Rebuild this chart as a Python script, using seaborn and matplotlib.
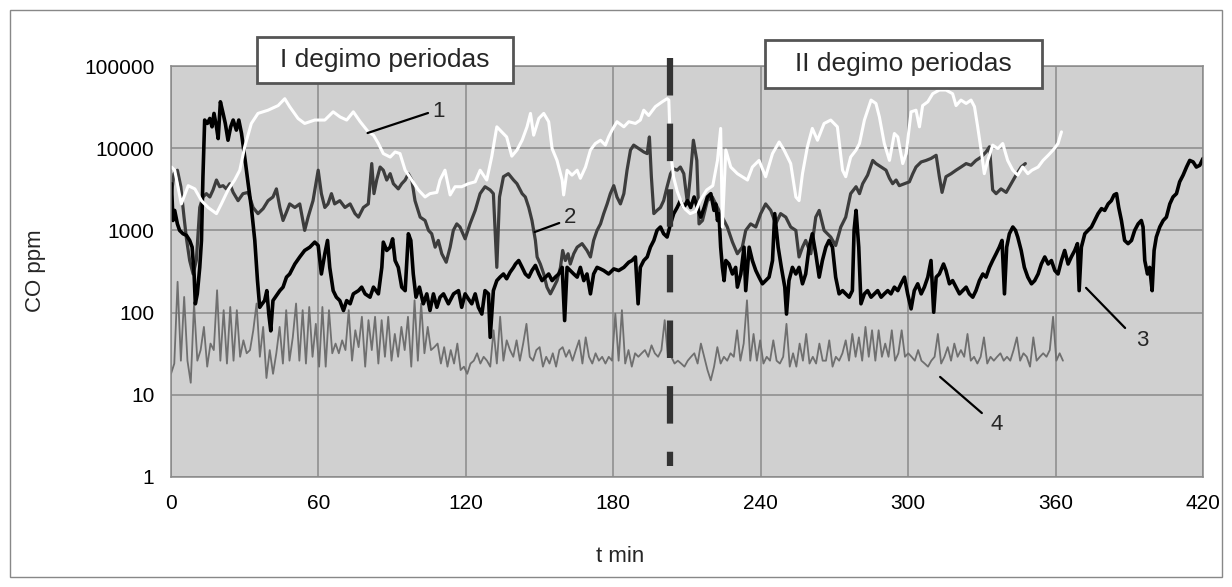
import numpy as np
import matplotlib
matplotlib.use('Agg')
import matplotlib.pyplot as plt
import seaborn as sns
from matplotlib.patches import Rectangle

# series 1 (white line)
t1 = [0.2, 1.5, 4.2, 7.0, 9.7, 12.4, 15.1, 18.5, 20.5, 23.2, 25.9, 28.0, 30.0, 32.7, 35.4, 39.5,
      43.6, 46.3, 48.3, 51.7, 54.4, 58.5, 62.6, 66.0, 68.8, 71.5, 74.2, 77.0, 80.3, 82.4, 84.4,
      86.4, 89.2, 91.2, 93.2, 95.3, 98.0, 100.7, 103.4, 105.4, 108.2, 109.5, 111.5, 113.6, 115.6,
      118.3, 121.0, 123.8, 125.8, 128.5, 130.5, 132.6, 134.6, 136.6, 138.7, 140.8, 142.9, 144.9,
      146.3, 147.6, 149.7, 151.7, 153.7, 155.1, 157.1, 159.2, 159.8, 161.2, 163.2, 165.3, 166.6,
      168.7, 170.7, 172.7, 174.8, 176.8, 178.1, 179.5, 181.5, 184.3, 186.3, 189.0, 191.0, 192.4,
      194.4, 197.1, 199.9, 201.9, 202.6, 203.3, 204.5, 206.0, 208.5, 211.3, 213.5, 215.3, 218.0,
      220.5, 222.4, 223.7, 224.4, 225.8, 227.8, 230.5, 234.6, 236.6, 239.3, 242.0, 244.8, 247.5,
      249.5, 252.2, 254.3, 255.6, 257.0, 259.0, 261.0, 263.1, 265.8, 268.5, 271.2, 273.3, 274.6,
      276.6, 278.8, 280.2, 282.2, 284.9, 286.9, 288.3, 290.3, 292.4, 294.4, 295.8, 297.8, 299.2,
      301.2, 303.2, 304.6, 305.9, 308.0, 310.0, 312.7, 315.4, 318.1, 319.5, 321.5, 323.6, 325.6,
      327.0, 328.3, 329.7, 331.0, 332.4, 334.4, 336.5, 338.5, 340.5, 342.6, 344.6, 346.6, 348.7,
      350.4, 352.9, 354.9, 357.0, 359.0, 361.0, 362.4]
co1 = [5900, 5400, 2100, 3500, 3200, 2300, 1900, 1600, 2100, 3100, 4100, 5400, 10400, 20000, 26500,
       29000, 33000, 40000, 32000, 23000, 20000, 22000, 22000, 27700, 24000, 22000, 27700, 21000,
       15800, 14400, 11400, 8600, 7800, 9000, 8600, 5400, 4100, 3100, 2550, 2800, 2900, 4100, 5400,
       2700, 3400, 3400, 3700, 3900, 5400, 4100, 7800, 18200, 15800, 13700, 8000, 9500, 12500,
       18200, 26500, 14400, 23000, 26500, 21000, 9900, 7100, 4100, 2700, 5400, 4700, 5400, 4300,
       5900, 9500, 11400, 12500, 10900, 13700, 16600, 21000, 18200, 21000, 20000, 22000, 29000,
       25000, 32000, 36700, 40000, 38500, 9500, 4500, 3000, 1900, 1600, 1700, 2300, 3100, 3500,
       7100, 17400, 1100, 9500, 5900, 4900, 4100, 5900, 7100, 4500, 8600, 11900, 9500, 6500, 2550,
       2300, 4900, 10400, 17400, 12500, 20000, 22000, 18200, 5400, 4500, 7800, 9500, 11400, 22000,
       38500, 35000, 24000, 11400, 7100, 15100, 13700, 6500, 8600, 27700, 29000, 18200, 33000,
       36700, 46000, 51000, 51000, 46000, 33000, 38500, 35000, 38500, 32000, 18200, 9500, 4900,
       7100, 10900, 9900, 11400, 7100, 5400, 4700, 5900, 4900, 5400, 5900, 7100, 8200, 9500,
       11400, 15800]

# series 2 (dark grey line)
t2 = [0.2, 1.2, 2.6, 4.0, 5.3, 6.3, 7.6, 9.0, 10.3, 11.7, 13.0, 14.4, 15.8, 17.1, 18.5, 19.8, 21.2,
      22.5, 23.9, 25.3, 27.3, 29.3, 31.4, 33.4, 35.4, 37.5, 39.5, 41.5, 42.9, 44.3, 45.6, 47.0,
      48.3, 50.4, 52.4, 54.4, 55.8, 57.8, 59.9, 61.2, 62.6, 63.9, 65.3, 66.6, 68.7, 70.8, 72.9,
      74.9, 76.3, 78.3, 80.3, 81.7, 82.6, 83.7, 85.1, 86.4, 87.8, 89.2, 90.5, 92.5, 93.9, 95.3,
      96.6, 98.0, 99.3, 101.4, 103.4, 104.8, 106.1, 107.5, 108.8, 110.2, 112.0, 113.6, 114.9,
      116.3, 117.6, 119.7, 121.7, 123.8, 125.8, 127.8, 129.9, 131.2, 132.6, 133.7, 135.3, 137.3,
      139.4, 140.8, 142.9, 144.2, 145.6, 146.9, 148.3, 149.0, 150.3, 151.7, 153.0, 154.4, 155.8,
      157.1, 158.5, 159.4, 160.5, 161.6, 162.5, 163.9, 165.3, 167.3, 169.3, 170.7, 172.0, 173.4,
      174.8, 176.1, 177.5, 178.8, 180.2, 181.5, 182.9, 184.3, 185.6, 187.0, 188.3, 190.4, 192.4,
      193.8, 194.7, 195.5, 196.5, 197.8, 199.2, 200.5, 201.9, 203.3, 204.6, 206.0, 207.3, 208.7,
      210.2, 211.2, 212.6, 214.0, 214.9, 216.3, 218.3, 220.3, 222.4, 224.4, 226.4, 228.5, 230.5,
      232.5, 233.9, 235.9, 238.0, 240.0, 242.0, 244.1, 246.1, 248.1, 250.2, 252.2, 254.3, 255.6,
      257.0, 258.3, 260.4, 262.4, 263.8, 265.8, 268.5, 270.5, 272.6, 274.6, 276.6, 278.8, 280.2,
      281.5, 283.5, 285.6, 286.9, 289.0, 291.0, 292.4, 293.7, 295.1, 296.4, 298.5, 300.5, 301.9,
      303.2, 305.3, 307.3, 309.3, 311.4, 312.7, 313.8, 315.4, 317.5, 319.5, 321.5, 323.6, 325.6,
      327.6, 329.7, 331.7, 333.1, 334.4, 335.8, 337.8, 339.9, 341.9, 343.9, 346.0, 347.7]
co2 = [2800, 4900, 5400, 3400, 1450, 790, 430, 295, 430, 1900, 2550, 2800, 2550, 3100, 4100, 3400,
       3500, 3200, 3700, 2900, 2300, 2800, 2900, 1900, 1600, 1840, 2300, 2550, 3200, 1900, 1320,
       1670, 2100, 1900, 2100, 1000, 1450, 2300, 5400, 2800, 1900, 2100, 2800, 2100, 2300, 1900,
       2100, 1600, 1450, 1900, 2100, 6500, 2800, 4100, 5900, 5400, 4100, 4900, 3700, 3200, 3700,
       4100, 4900, 4100, 2300, 1450, 1320, 1000, 910, 625, 755, 520, 410, 625, 1000, 1200, 1100,
       790, 1200, 1750, 2800, 3400, 3100, 2800, 355, 2550, 4500, 4900, 4100, 3700, 2800, 2550,
       1900, 1320, 755, 475, 390, 295, 204, 169, 204, 245, 355, 570, 430, 520, 390, 520, 625, 690,
       570, 475, 755, 1000, 1200, 1600, 2100, 2800, 3500, 2550, 2100, 2800, 5400, 9500, 10900,
       9900, 9000, 8600, 13700, 4500, 1600, 1750, 1900, 2300, 3400, 4900, 5600, 5400, 5900, 4900,
       2100, 4100, 12500, 7100, 1200, 1320, 2300, 2550, 1900, 1450, 1100, 720, 520, 625, 1000,
       1200, 1100, 1600, 2100, 1750, 1200, 1600, 1450, 1100, 1000, 475, 625, 755, 520, 1450, 1750,
       1000, 830, 655, 1100, 1450, 2800, 3400, 2800, 3700, 4700, 7100, 6500, 5900, 5400, 4300,
       3700, 4100, 3500, 3700, 3900, 4900, 5900, 6800, 7100, 7500, 8200, 4500, 2900, 4500, 4900,
       5400, 5900, 6500, 6200, 7100, 7800, 9000, 10400, 3100, 2800, 3200, 2900, 3700, 4700, 5900,
       6500]

# series 3 (black line)
t3 = [0.2, 0.8, 1.5, 2.6, 3.5, 4.9, 6.3, 7.6, 8.6, 9.4, 9.9, 10.7, 11.7, 12.4, 13.0, 13.7, 14.8,
      15.8, 16.7, 17.5, 18.5, 19.2, 20.1, 21.2, 22.1, 23.2, 24.3, 25.3, 26.6, 27.6, 28.7, 30.0,
      31.4, 32.7, 34.1, 35.2, 36.1, 37.1, 38.1, 39.0, 39.8, 40.6, 41.5, 42.9, 44.3, 45.6, 47.0,
      48.3, 50.4, 52.4, 54.4, 56.5, 58.5, 59.9, 61.2, 62.6, 63.7, 64.6, 66.0, 67.3, 68.7, 70.2,
      71.5, 72.9, 74.2, 76.3, 77.6, 79.0, 81.0, 82.4, 84.4, 85.8, 86.4, 87.8, 89.2, 90.2, 91.2,
      92.5, 93.9, 95.3, 96.6, 97.6, 98.6, 99.7, 101.1, 102.7, 104.1, 105.4, 106.8, 108.2, 109.5,
      110.9, 112.9, 115.0, 117.0, 118.3, 119.7, 121.0, 122.4, 123.8, 125.1, 126.5, 127.8, 129.2,
      129.9, 131.2, 132.6, 133.9, 135.3, 136.6, 138.0, 139.4, 140.2, 141.5, 142.9, 144.2, 145.6,
      146.9, 148.3, 149.7, 151.0, 152.4, 153.7, 155.1, 156.4, 157.8, 159.2, 160.2, 161.2, 162.5,
      163.9, 165.3, 166.6, 168.0, 169.3, 170.7, 172.0, 173.4, 174.8, 176.1, 178.1, 180.2, 182.2,
      184.3, 186.3, 187.6, 189.0, 190.1, 191.0, 192.4, 193.8, 195.1, 196.5, 197.8, 199.2, 200.5,
      201.9, 203.3, 204.6, 206.0, 207.3, 208.7, 210.2, 211.5, 212.9, 214.2, 215.6, 217.0, 218.3,
      219.7, 221.0, 221.7, 222.4, 223.0, 223.7, 224.4, 225.1, 225.8, 227.1, 228.5, 229.8, 230.5,
      231.9, 233.2, 233.9, 235.3, 236.6, 238.0, 239.3, 240.7, 242.0, 243.4, 244.8, 245.7, 247.1,
      248.4, 249.8, 250.5, 251.5, 252.9, 254.3, 255.6, 257.0, 258.3, 259.7, 261.0, 262.4, 263.8,
      265.1, 266.5, 267.8, 269.2, 270.5, 271.9, 273.3, 274.6, 276.0, 277.3, 278.0, 278.8, 279.9,
      280.8, 282.2, 283.5, 284.9, 286.3, 287.6, 289.0, 290.3, 291.7, 293.0, 294.4, 295.8, 297.1,
      298.5, 299.8, 301.2, 302.5, 303.9, 305.3, 306.6, 308.0, 309.3, 310.4, 311.4, 312.7, 314.4,
      315.4, 316.8, 318.1, 319.5, 320.9, 322.2, 323.6, 324.9, 326.3, 327.6, 329.0, 330.4, 331.7,
      333.1, 334.4, 335.8, 337.1, 338.2, 339.2, 340.1, 341.2, 342.6, 343.7, 344.6, 346.0, 347.3,
      348.7, 350.2, 351.5, 352.9, 354.2, 355.6, 357.0, 358.3, 359.7, 361.0, 362.4, 363.7, 365.1,
      366.4, 367.8, 368.9, 369.6, 370.5, 371.9, 373.2, 374.6, 375.9, 377.3, 378.7, 380.0, 381.4,
      382.7, 383.8, 384.8, 385.7, 386.8, 388.1, 389.5, 390.9, 392.2, 393.6, 394.9, 395.6, 396.3,
      397.4, 398.3, 399.3, 400.1, 401.0, 402.4, 403.8, 405.1, 406.5, 407.8, 409.2, 410.5, 411.9,
      413.3, 414.6, 416.0, 417.3, 418.7, 420.0]
co3 = [3700, 1320, 1750, 1200, 1000, 910, 870, 755, 625, 295, 128, 169, 355, 755, 4500, 22000,
       20000, 23000, 18200, 26500, 18200, 13100, 36700, 26500, 20000, 12500, 18200, 22000, 16600,
       22000, 15100, 7800, 3700, 1900, 755, 245, 116, 128, 140, 185, 96, 60, 140, 161, 185, 204,
       270, 295, 390, 475, 570, 625, 720, 655, 295, 520, 755, 355, 185, 154, 140, 106, 140, 128,
       169, 185, 204, 169, 154, 204, 169, 355, 720, 570, 625, 790, 430, 355, 204, 185, 910, 755,
       295, 154, 204, 128, 169, 106, 169, 116, 154, 169, 128, 169, 185, 116, 169, 147, 128, 169,
       116, 96, 185, 169, 50, 185, 245, 270, 295, 258, 310, 355, 390, 430, 355, 295, 270, 325, 375,
       295, 245, 270, 295, 245, 270, 295, 355, 80, 355, 325, 295, 270, 355, 245, 295, 169, 295,
       355, 340, 325, 295, 340, 325, 355, 410, 430, 475, 128, 355, 430, 475, 625, 755, 1000, 1100,
       910, 830, 1200, 1600, 1900, 2300, 1900, 2300, 1900, 2550, 1900, 1450, 1900, 2550, 2800,
       1750, 2100, 1320, 1600, 625, 355, 245, 430, 390, 295, 355, 204, 295, 625, 185, 625, 430,
       325, 270, 224, 245, 270, 430, 1600, 625, 355, 204, 96, 245, 355, 295, 355, 224, 295, 625,
       910, 520, 270, 430, 625, 755, 625, 270, 169, 185, 169, 154, 185, 1000, 1750, 625, 128, 169,
       185, 154, 169, 185, 154, 169, 185, 169, 204, 185, 224, 270, 169, 111, 185, 224, 169, 204,
       270, 430, 101, 270, 295, 390, 325, 224, 245, 204, 169, 185, 204, 169, 154, 185, 245, 295,
       270, 355, 430, 520, 625, 755, 169, 625, 910, 1100, 1000, 830, 570, 355, 270, 224, 245, 295,
       390, 475, 390, 430, 325, 295, 430, 570, 390, 475, 570, 690, 185, 625, 910, 1000, 1100,
       1320, 1600, 1840, 1750, 2100, 2300, 2700, 2800, 1900, 1320, 755, 690, 755, 1000, 1200, 1320,
       1100, 430, 295, 355, 185, 570, 830, 1100, 1320, 1450, 2100, 2550, 2800, 3900, 4700, 5900,
       7100, 6800, 5900, 6200, 7500]

# series 4 (grey line), readings at a regular interval from 0 to 363 min
co4 = [18, 24, 237, 26, 155, 26, 14, 129, 26, 35, 67, 22, 42, 35, 187, 26, 107, 24, 117, 26,
       107, 29, 46, 32, 35, 61, 129, 29, 67, 16, 35, 18, 32, 67, 24, 107, 26, 50, 129, 26,
       107, 24, 117, 29, 73, 22, 117, 22, 107, 32, 42, 32, 46, 35, 107, 26, 61, 38, 89, 22,
       81, 35, 89, 24, 81, 29, 89, 26, 55, 29, 67, 35, 89, 22, 141, 26, 129, 32, 67, 35,
       38, 42, 24, 38, 22, 35, 24, 42, 20, 22, 18, 24, 26, 32, 24, 29, 26, 22, 61, 24,
       89, 26, 46, 35, 29, 46, 26, 42, 73, 29, 26, 35, 38, 22, 29, 24, 32, 22, 35, 38,
       29, 35, 26, 35,
       46, 24, 50, 29, 24, 32, 26, 29, 24, 29, 26, 97, 26, 107, 24, 35, 22, 32, 29, 32,
       35, 29, 40, 32, 29, 35, 81, 29, 29, 24, 26, 24, 22, 26, 29, 32, 24, 42, 29, 20,
       15, 22, 38, 24, 29, 26, 32, 29, 61, 26, 42, 141, 26, 55, 26, 46, 24, 29, 26, 46,
       26, 24, 29, 73, 22, 32, 22, 42, 26, 55, 24, 29, 24, 42, 26, 26, 46, 22, 29, 26,
       32, 46, 26, 55, 29, 50, 26, 67, 29, 61, 26, 61, 29, 42, 29, 61, 26, 32, 61, 29,
       32, 29, 26, 35, 26, 24, 22, 26, 29, 55, 24, 29, 38, 26, 42, 29, 35, 29, 55, 26,
       29, 24, 29, 50, 24, 29, 26, 29, 32, 26, 29, 26, 35, 50, 26, 32, 29, 22, 50, 26,
       29, 32, 29, 35, 89, 26, 32, 26]
t4 = np.linspace(0, 363, len(co4))

x_ticks = [0, 60, 120, 180, 240, 300, 360, 420]
y_ticks = [1, 10, 100, 1000, 10000, 100000]
y_tick_labels = ['1', '10', '100', '1000', '10000', '100000']
switch_time = 203
period_labels = ['I degimo periodas', 'II degimo periodas']

W, H = 1232, 587

sns.set_theme(style='whitegrid')
plt.rcParams['font.family'] = ['Liberation Sans', 'DejaVu Sans']

fig = plt.figure(figsize=(W / 100, H / 100), dpi=100)
fig.patch.set_facecolor('white')
ax = fig.add_axes([171 / W, 1 - 477 / H, (1203 - 171) / W, (477 - 66) / H])
ax.set_facecolor('#d0d0d0')

sns.lineplot(x=t4, y=co4, ax=ax, color='#6f6f6f', linewidth=1.3, estimator=None, sort=False)
sns.lineplot(x=t2, y=co2, ax=ax, color='#3d3d3d', linewidth=2.3, estimator=None, sort=False)
sns.lineplot(x=t3, y=co3, ax=ax, color='#000000', linewidth=2.6, estimator=None, sort=False)
sns.lineplot(x=t1, y=co1, ax=ax, color='#ffffff', linewidth=2.2, estimator=None, sort=False)

ax.set_yscale('log')
ax.set_xlim(0, 420)
ax.set_ylim(1, 100000)
ax.set_xticks(x_ticks)
ax.set_yticks(y_ticks)
ax.set_yticklabels(y_tick_labels)
ax.yaxis.set_minor_locator(matplotlib.ticker.NullLocator())
ax.grid(True, color='#8a8a8a', linewidth=1.1)
ax.tick_params(axis='both', labelsize=15, colors='#8a8a8a', labelcolor='black',
               length=0, width=1.1, pad=12)
ax.tick_params(axis='x', pad=12)
for s in ax.spines.values():
    s.set_color('#8a8a8a')
    s.set_linewidth(1.1)
ax.set_xlabel('')
ax.set_ylabel('')

# change of burning period
ax.plot([switch_time, switch_time], [125000, 1.35], color='#333333', linewidth=4.5,
        dashes=(6, 4.5), clip_on=False, zorder=5)

# number labels of the curves
ax.plot([80, 104.6], [15300, 26800], color='black', linewidth=1.6)
ax.text(106.5, 28000, '1', fontsize=16, va='center', ha='left')
ax.plot([148, 158], [955, 1230], color='black', linewidth=1.6)
ax.text(160, 1450, '2', fontsize=16, va='center', ha='left')
ax.plot([372.4, 388.3], [200, 65], color='black', linewidth=1.6)
ax.text(395.2, 46, '3', fontsize=16, va='center', ha='center')
ax.plot([313, 330], [16.5, 6.0], color='black', linewidth=1.6)
ax.text(336.2, 4.3, '4', fontsize=16, va='center', ha='center')

# period boxes
def box(x0, y0, x1, y1, text):
    fig.add_artist(Rectangle((x0 / W, 1 - y1 / H), (x1 - x0) / W, (y1 - y0) / H,
                             transform=fig.transFigure, facecolor='white',
                             edgecolor='#555555', linewidth=2, zorder=10))
    fig.text((x0 + x1) / 2 / W, 1 - (y0 + y1) / 2 / H, text, fontsize=19,
             ha='center', va='center', zorder=11)

box(257, 37, 513, 83, period_labels[0])
box(765, 40, 1042, 88, period_labels[1])

fig.text(35 / W, 1 - 271 / H, 'CO ppm', rotation=90, fontsize=16, ha='center', va='center')
fig.text(620 / W, 1 - 557 / H, 't min', fontsize=16, ha='center', va='center')

# outer chart frame
fig.add_artist(Rectangle((10 / W, 10 / H), (W - 20) / W, (H - 20) / H, transform=fig.transFigure,
                         facecolor='none', edgecolor='#888888', linewidth=1))

fig.savefig('out.png', dpi=100)
